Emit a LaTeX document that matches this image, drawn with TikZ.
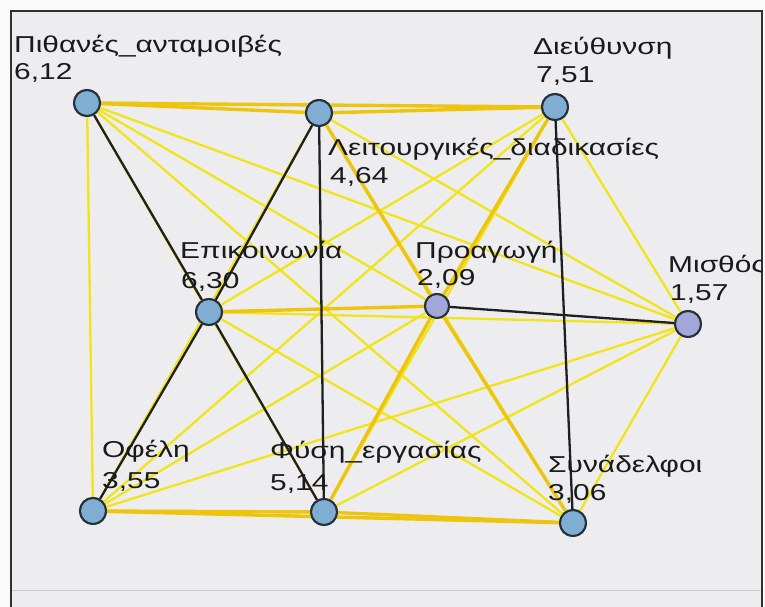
\documentclass[tikz,border=0pt]{standalone}
\usepackage{fontspec}
\setmainfont{Liberation Sans}
\definecolor{outerbg}{HTML}{FAFAFA}
\definecolor{panelbg}{HTML}{EDEDEF}
\definecolor{frameline}{HTML}{303030}
\definecolor{nodeblue}{HTML}{7FAED2}
\definecolor{nodelilac}{HTML}{A3A6D8}
\definecolor{nodeline}{HTML}{24303C}
\definecolor{weakyellow}{HTML}{F0E41A}
\definecolor{strongyellow}{HTML}{EEC50E}
\definecolor{tieblack}{HTML}{202020}
\definecolor{labeltext}{HTML}{1A1A1A}
\newcommand\widetext[1]{\scalebox{1.3}[1]{#1}}
\tikzset{
  vtx/.style={circle, minimum size=26pt, inner sep=0pt, draw=nodeline, line width=2pt, fill=nodeblue},
  vtxlilac/.style={vtx, fill=nodelilac},
  weak/.style={draw=weakyellow, line width=2.3pt},
  strong/.style={draw=strongyellow, line width=3.4pt},
  tie/.style={draw=tieblack, line width=2.3pt},
  lab/.style={anchor=base west, inner sep=0pt, text=labeltext, font=\fontsize{23}{27}\selectfont}
}
\begin{document}
\begin{tikzpicture}[x=1pt,y=-1pt]
\useasboundingbox (0,0) rectangle (765,607);
\fill[outerbg] (0,0) rectangle (765,607);
\begin{scope}
  \clip (0,0) rectangle (765,607);
  \fill[panelbg] (11,11) rectangle (762,625);
  \draw[gray!40, line width=0.8pt] (12,590) -- (761,590);
  \draw[frameline, line width=1.6pt] (11,11) rectangle (762,625);
\end{scope}

% vertices
\node[vtx] (P) at (87,103) {};
\node[vtx] (L) at (319,113) {};
\node[vtx] (D) at (555,107) {};
\node[vtx] (E) at (209,312) {};
\node[vtxlilac, minimum size=24pt] (R) at (437,306) {};
\node[vtxlilac] (M) at (688,324) {};
\node[vtx] (O) at (93,511) {};
\node[vtx] (F) at (324,512) {};
\node[vtx] (S) at (573,523) {};

% links
\begin{scope}
  % light links
  \draw[weak] (P) -- (O);
  \draw[weak] (P) -- (R);
  \draw[weak] (P) -- (M);
  \draw[weak] (P) -- (S);
  \draw[weak] (P) -- (F);
  \draw[weak] (L) -- (O);
  \draw[weak] (L) -- (M);
  \draw[weak] (L) -- (S);
  \draw[weak] (D) -- (E);
  \draw[weak] (D) -- (O);
  \draw[weak] (D) -- (F);
  \draw[weak] (D) -- (M);
  \draw[weak] (E) -- (M);
  \draw[weak] (E) -- (S);
  \draw[weak] (R) -- (O);
  \draw[weak] (M) -- (O);
  \draw[weak] (M) -- (F);
  \draw[weak] (M) -- (S);
  % heavy links
  \draw[strong] (P) -- (L);
  \draw[strong] (P) -- (D);
  \draw[strong] (L) -- (D);
  \draw[strong] (O) -- (F);
  \draw[strong] (F) -- (S);
  \draw[strong] (O) -- (S);
  \draw[strong] (E) -- (R);
  \draw[strong] (R) -- (L);
  \draw[strong] (R) -- (D);
  \draw[strong] (R) -- (F);
  \draw[strong] (R) -- (S);
  % dark links
  \draw[tie] (P) -- (E);
  \draw[tie] (E) -- (L);
  \draw[tie] (E) -- (O);
  \draw[tie] (E) -- (F);
  \draw[tie] (L) -- (F);
  \draw[tie] (D) -- (S);
  \draw[tie] (R) -- (M);
\end{scope}

% redraw vertices over the links
\node[vtx] at (P) {};
\node[vtx] at (L) {};
\node[vtx] at (D) {};
\node[vtx] at (E) {};
\node[vtxlilac, minimum size=24pt] at (R) {};
\node[vtxlilac] at (M) {};
\node[vtx] at (O) {};
\node[vtx] at (F) {};
\node[vtx] at (S) {};

% labels
\begin{scope}
  \clip (12,12) rectangle (761,606);
  \node[lab] (tP) at (14,53) {\widetext{Πιθανές\_ανταμοιβές}};
  \node[lab] (vP) at (14,80) {\widetext{6,12}};
  \node[lab] (tD) at (533,55) {\widetext{Διεύθυνση}};
  \node[lab] (vD) at (536,83) {\widetext{7,51}};
  \node[lab] (tL) at (328,155) {\widetext{Λειτουργικές\_διαδικασίες}};
  \node[lab] (vL) at (330,183) {\widetext{4,64}};
  \node[lab] (tE) at (180,258) {\widetext{Επικοινωνία}};
  \node[lab] (vE) at (181,288) {\widetext{6,30}};
  \node[lab] (tR) at (415,258) {\widetext{Προαγωγή}};
  \node[lab] (vR) at (417,285) {\widetext{2,09}};
  \node[lab] (tM) at (668,272) {\widetext{Μισθός}};
  \node[lab] (vM) at (670,300) {\widetext{1,57}};
  \node[lab] (tO) at (102,457) {\widetext{Οφέλη}};
  \node[lab] (vO) at (102,488) {\widetext{3,55}};
  \node[lab] (tF) at (270,458) {\widetext{Φύση\_εργασίας}};
  \node[lab] (vF) at (270,490) {\widetext{5,14}};
  \node[lab] (tS) at (548,472) {\widetext{Συνάδελφοι}};
  \node[lab] (vS) at (548,500) {\widetext{3,06}};
\end{scope}
\end{tikzpicture}
\end{document}
